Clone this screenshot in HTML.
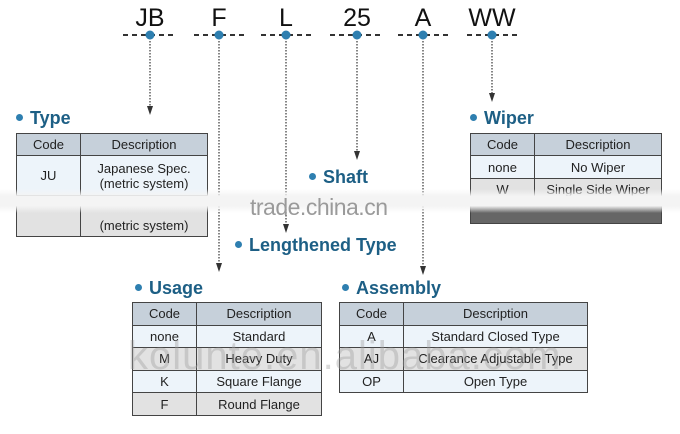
<!DOCTYPE html>
<html><head><meta charset="utf-8"><style>
html,body{margin:0;padding:0;background:#fff;}
body{width:680px;height:434px;position:relative;overflow:hidden;font-family:"Liberation Sans",sans-serif;}
.a{position:absolute;}
.letter{position:absolute;top:4px;font-size:25px;color:#111;transform:translateX(-50%);}
.title{position:absolute;font-weight:bold;font-size:18px;color:#1d5f85;white-space:nowrap;}
.title:before{content:"";display:inline-block;width:7px;height:7px;border-radius:50%;background:#2e7fb0;margin-right:7px;vertical-align:3px;}
table{position:absolute;border-collapse:collapse;font-size:13px;color:#222;}
td{border:1px solid #444;text-align:center;padding:0;}
tr.h td{background:#c6d0da;}
tr.b td{background:#edf4fa;}
tr.g td{background:#e2e2e2;}
</style></head><body>
<svg class="a" style="left:0;top:0" width="680" height="434">
<g stroke="#333" stroke-width="2" stroke-dasharray="5,4">
<line x1="123" y1="35" x2="177" y2="35"/><line x1="194" y1="35" x2="246" y2="35"/>
<line x1="261" y1="35" x2="313" y2="35"/><line x1="330" y1="35" x2="384" y2="35"/>
<line x1="398" y1="35" x2="450" y2="35"/><line x1="467" y1="35" x2="519" y2="35"/>
</g>
<g stroke="#444" stroke-width="1.3" stroke-dasharray="1.5,1.5">
<line x1="150" y1="35" x2="150" y2="108"/><line x1="219" y1="35" x2="219" y2="265"/>
<line x1="286" y1="35" x2="286" y2="225"/><line x1="357" y1="35" x2="357" y2="153"/>
<line x1="423" y1="35" x2="423" y2="268"/><line x1="492" y1="35" x2="492" y2="95"/>
</g>
<g fill="#333">
<polygon points="147,106 153,106 150,115"/><polygon points="216,263 222,263 219,272"/>
<polygon points="283,224 289,224 286,233"/><polygon points="354,151 360,151 357,160"/>
<polygon points="420,266 426,266 423,275"/><polygon points="489,93 495,93 492,102"/>
</g>
<g fill="#2e7fb0">
<circle cx="150" cy="35" r="4.5"/><circle cx="219" cy="35" r="4.5"/><circle cx="286" cy="35" r="4.5"/>
<circle cx="357" cy="35" r="4.5"/><circle cx="423" cy="35" r="4.5"/><circle cx="492" cy="35" r="4.5"/>
</g>
</svg>
<div class="letter" style="left:150px">JB</div>
<div class="letter" style="left:219px">F</div>
<div class="letter" style="left:286px">L</div>
<div class="letter" style="left:357px">25</div>
<div class="letter" style="left:423px">A</div>
<div class="letter" style="left:492px">WW</div>

<div class="title" style="left:16px;top:108px">Type</div>
<table style="left:16px;top:133px;width:192px;height:104px">
<tr class="h" style="height:22px"><td style="width:63px">Code</td><td>Description</td></tr>
<tr class="b" style="height:40px"><td>JU</td><td>Japanese Spec.<br>(metric system)</td></tr>
<tr class="g"><td></td><td style="vertical-align:bottom;padding-bottom:3px">(metric system)</td></tr>
</table>

<div class="title" style="left:470px;top:108px">Wiper</div>
<table style="left:470px;top:133px;width:192px;height:90px">
<tr class="h" style="height:22px"><td style="width:63px">Code</td><td>Description</td></tr>
<tr class="b" style="height:23px"><td>none</td><td>No Wiper</td></tr>
<tr class="g" style="height:22px"><td>W</td><td>Single Side Wiper</td></tr>
<tr style="height:23px"><td colspan="2" style="background:#666"></td></tr>
</table>

<div class="a" style="left:0;top:189px;width:680px;height:24px;background:linear-gradient(#fff0,#f4f4f4 30%,#f4f4f4 70%,#fff0)"></div>
<div class="a" style="left:250px;top:194px;font-size:23px;color:#9a9a9a;letter-spacing:-0.5px">trade.china.cn</div>

<div class="title" style="left:309px;top:167px">Shaft</div>
<div class="title" style="left:235px;top:235px">Lengthened Type</div>

<div class="title" style="left:135px;top:278px">Usage</div>
<table style="left:132px;top:302px;width:190px;height:114px">
<tr class="h"><td style="width:63px">Code</td><td>Description</td></tr>
<tr class="b"><td>none</td><td>Standard</td></tr>
<tr class="g"><td>M</td><td>Heavy Duty</td></tr>
<tr class="b"><td>K</td><td>Square Flange</td></tr>
<tr class="g"><td>F</td><td>Round Flange</td></tr>
</table>

<div class="title" style="left:342px;top:278px">Assembly</div>
<table style="left:339px;top:302px;width:249px;height:91px">
<tr class="h"><td style="width:63px">Code</td><td>Description</td></tr>
<tr class="b"><td>A</td><td>Standard Closed Type</td></tr>
<tr class="g"><td>AJ</td><td>Clearance Adjustable Type</td></tr>
<tr class="b"><td>OP</td><td>Open Type</td></tr>
</table>

<div class="a" style="left:128px;top:334px;font-size:40px;color:rgba(160,160,160,0.4);white-space:nowrap;letter-spacing:1px">kolunte.en.alibaba.com</div>
</body></html>
